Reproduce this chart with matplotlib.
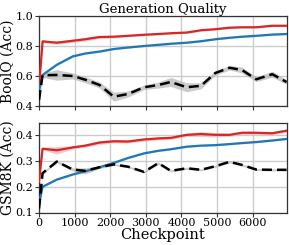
import matplotlib
matplotlib.use("Agg")
import matplotlib.pyplot as plt
import numpy as np

plt.rcParams['font.family'] = ['DejaVu Serif']

checkpoints = [0, 100, 500, 950, 1300, 1700, 2100, 2500, 2950, 3350, 3700,
               4150, 4550, 4950, 5350, 5700, 6100, 6550, 6950]

# BoolQ
boolq_red = [0.52, 0.831, 0.822, 0.835, 0.845, 0.86, 0.862, 0.868, 0.875, 0.88, 0.885,
             0.89, 0.905, 0.912, 0.922, 0.925, 0.925, 0.935, 0.935]
boolq_red_err = [0.01, 0.008, 0.01, 0.01, 0.012, 0.01, 0.008, 0.006, 0.006, 0.006, 0.006,
                 0.006, 0.006, 0.006, 0.006, 0.006, 0.006, 0.006, 0.006]
boolq_blue = [0.5, 0.607, 0.675, 0.731, 0.75, 0.763, 0.78, 0.79, 0.8, 0.808, 0.815,
              0.822, 0.832, 0.845, 0.855, 0.862, 0.868, 0.876, 0.88]
boolq_blue_err = [0.005] * 19
boolq_black = [0.44, 0.605, 0.607, 0.60, 0.575, 0.54, 0.462, 0.48, 0.525, 0.54, 0.56,
               0.525, 0.535, 0.62, 0.655, 0.64, 0.578, 0.612, 0.56]
boolq_black_err = [0.01, 0.015, 0.035, 0.02, 0.02, 0.02, 0.03, 0.02, 0.015, 0.02, 0.03,
                   0.03, 0.02, 0.015, 0.015, 0.02, 0.015, 0.02, 0.015]

# GSM8K
gsm_red = [0.22, 0.348, 0.342, 0.353, 0.36, 0.372, 0.377, 0.376, 0.384, 0.388, 0.39,
           0.402, 0.405, 0.402, 0.402, 0.41, 0.41, 0.408, 0.418]
gsm_red_err = [0.005, 0.005, 0.015, 0.006, 0.006, 0.008, 0.006, 0.006, 0.006, 0.006, 0.006,
               0.006, 0.01, 0.008, 0.006, 0.006, 0.006, 0.006, 0.006]
gsm_blue = [0.13, 0.2, 0.228, 0.248, 0.26, 0.276, 0.293, 0.312, 0.33, 0.34, 0.346,
            0.356, 0.36, 0.362, 0.366, 0.37, 0.374, 0.38, 0.386]
gsm_blue_err = [0.003] * 19
gsm_black = [0.115, 0.253, 0.298, 0.267, 0.262, 0.276, 0.287, 0.278, 0.258, 0.292, 0.262,
             0.272, 0.266, 0.28, 0.297, 0.285, 0.267, 0.266, 0.266]
gsm_black_err = [0.004, 0.004, 0.005, 0.006, 0.012, 0.005, 0.004, 0.004, 0.004, 0.005, 0.004,
                 0.004, 0.004, 0.004, 0.004, 0.004, 0.004, 0.004, 0.004]

RED = '#d62728'
BLUE = '#1f77b4'
W, H = 289, 245
fig = plt.figure(figsize=(W / 100, H / 100), dpi=100)

ax1 = fig.add_axes([39 / W, 1 - 106 / H, 247.5 / W, 90 / H])
ax2 = fig.add_axes([39 / W, 1 - 212.5 / H, 247.5 / W, 89.5 / H])

x = np.array(checkpoints)

def draw(ax, red, rerr, blue, berr, black, kerr):
    for y, e, c, ls, lw, band in [(red, rerr, RED, '-', 1.6, '#f2b3b3'),
                                  (blue, berr, BLUE, '-', 1.6, '#a9c9e4'),
                                  (black, kerr, 'black', '--', 1.8, '#b5b5b5')]:
        y = np.array(y); e = np.array(e)
        ax.fill_between(x, y - e, y + e, color=band, alpha=0.7, lw=0, zorder=2)
        ax.plot(x, y, color=c, ls=ls, lw=lw, zorder=3,
                dashes=(4, 2) if ls == '--' else (None, None))
    ax.set_xlim(0, 6950)
    ax.grid(True, color='#cccccc', lw=1.0, zorder=0)
    ax.set_axisbelow(True)
    for s in ax.spines.values():
        s.set_color('#333333')
        s.set_linewidth(0.9)
    ax.tick_params(direction='out', length=3, width=0.8, color='#333333',
                   labelsize=8, pad=1)
    ax.set_xticks([0, 1000, 2000, 3000, 4000, 5000, 6000])

draw(ax1, boolq_red, boolq_red_err, boolq_blue, boolq_blue_err, boolq_black, boolq_black_err)
draw(ax2, gsm_red, gsm_red_err, gsm_blue, gsm_blue_err, gsm_black, gsm_black_err)

ax1.set_ylim(0.4, 1.0)
ax1.set_yticks([0.4, 0.6, 0.8, 1.0])
ax1.set_yticklabels(['0.4', '0.6', '0.8', '1.0'])
ax1.tick_params(labelbottom=False)
ax1.set_ylabel('BoolQ (Acc)', fontsize=10)
ax1.yaxis.set_label_coords(-0.1, 0.5)
ax1.set_title('Generation Quality', fontsize=9.5, pad=2)

ax2.set_ylim(0.1, 0.448)
ax2.set_yticks([0.1, 0.2, 0.3, 0.4])
ax2.set_yticklabels(['0.1', '0.2', '0.3', '0.4'])
ax2.set_ylabel('GSM8K (Acc)', fontsize=10)
ax2.yaxis.set_label_coords(-0.1, 0.5)
ax2.set_xlabel('Checkpoint', fontsize=10.5, labelpad=0)

fig.savefig('out.png', dpi=100)
